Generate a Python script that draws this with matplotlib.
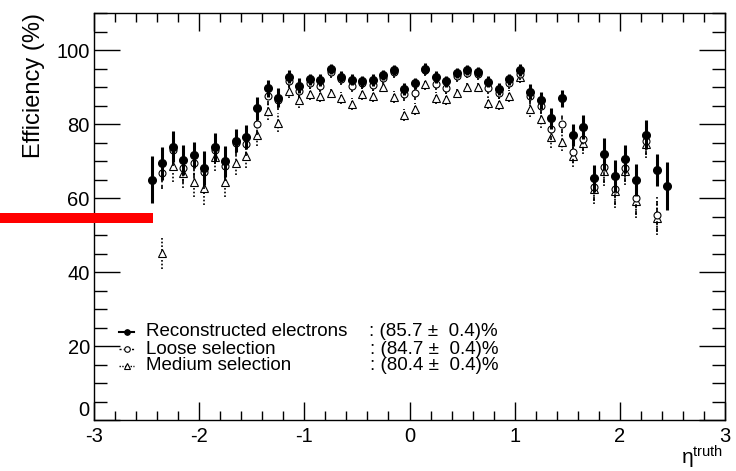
import numpy as np
import matplotlib
matplotlib.use("Agg")
import matplotlib.pyplot as plt
from matplotlib.patches import Rectangle
from matplotlib.lines import Line2D
from matplotlib.ticker import MultipleLocator

plt.rcParams['font.family'] = ['Liberation Sans', 'DejaVu Sans']
plt.rcParams['axes.unicode_minus'] = False

eta = [-2.45, -2.35, -2.25, -2.15, -2.05, -1.95, -1.85, -1.75, -1.65, -1.55,
       -1.45, -1.35, -1.25, -1.15, -1.05, -0.95, -0.85, -0.75, -0.65, -0.55,
       -0.45, -0.35, -0.25, -0.15, -0.05, 0.05, 0.15, 0.25, 0.35, 0.45,
       0.55, 0.65, 0.75, 0.85, 0.95, 1.05, 1.15, 1.25, 1.35, 1.45,
       1.55, 1.65, 1.75, 1.85, 1.95, 2.05, 2.15, 2.25, 2.35, 2.45]

reco = [65.0, 69.4, 73.9, 70.2, 71.6, 68.1, 73.9, 69.9, 75.5, 76.5,
        84.2, 89.6, 87.1, 92.8, 90.3, 92.1, 91.9, 94.9, 92.8, 92.0,
        91.6, 91.9, 93.3, 94.6, 89.4, 91.0, 95.0, 92.7, 91.6, 93.8,
        94.6, 94.1, 91.4, 89.4, 92.1, 94.6, 88.7, 86.4, 81.5, 86.9,
        77.0, 79.1, 65.3, 71.9, 66.0, 70.5, 64.9, 77.1, 67.6, 63.2]

loose = [np.nan, 66.8, 73.0, 68.0, 69.4, 67.0, 73.0, 68.7, 75.0, 74.6,
         80.0, 87.6, 86.5, 91.5, 89.0, 91.0, 90.3, 94.0, 92.1, 90.3,
         91.0, 90.5, 92.5, 94.0, 88.0, 88.3, 94.5, 90.7, 89.8, 93.0,
         93.8, 93.5, 89.8, 88.5, 91.0, 93.4, 87.5, 85.0, 78.6, 80.1,
         72.5, 76.0, 63.0, 68.3, 62.5, 68.2, 60.0, 75.5, 55.5, np.nan]

medium = [np.nan, 45.1, 68.7, 66.7, 64.2, 62.7, 71.0, 64.4, 69.4, 71.4,
          77.1, 83.6, 80.4, 88.9, 86.4, 88.0, 87.6, 88.5, 87.1, 85.5,
          88.0, 87.6, 90.1, 87.4, 82.4, 84.0, 90.7, 87.1, 86.7, 88.5,
          90.1, 90.1, 85.8, 85.5, 87.6, 92.8, 84.0, 81.3, 76.4, 75.2,
          71.4, 75.0, 62.3, 67.4, 61.8, 67.4, 59.3, 74.6, 54.6, np.nan]

err_reco = [6.4, 4.4, 4.3, 4.0, 3.6, 4.5, 3.8, 4.1, 3.2, 3.2,
            3.0, 2.3, 2.5, 1.8, 2.0, 1.5, 1.5, 1.4, 1.5, 1.5,
            1.5, 1.5, 1.4, 1.4, 1.6, 1.5, 1.4, 1.5, 1.5, 1.4,
            1.4, 1.4, 1.5, 1.6, 1.5, 1.6, 2.0, 2.3, 2.8, 2.2,
            3.0, 3.2, 3.7, 4.2, 4.3, 3.8, 4.4, 3.9, 4.4, 6.5]

err_sel = [6.4, 4.4, 4.3, 4.0, 3.8, 4.5, 3.8, 4.1, 3.3, 3.3,
           3.0, 2.4, 2.6, 1.9, 2.0, 1.6, 1.6, 1.6, 1.6, 1.6,
           1.6, 1.6, 1.5, 1.6, 1.7, 1.7, 1.5, 1.6, 1.6, 1.6,
           1.5, 1.5, 1.7, 1.7, 1.6, 1.6, 2.1, 2.4, 2.8, 2.6,
           3.0, 3.2, 3.8, 4.2, 4.5, 3.8, 4.6, 3.9, 4.7, 6.5]

labels = ["Reconstructed electrons", "Loose selection", "Medium selection"]
values = [": (85.7 \u00b1  0.4)%", ": (84.7 \u00b1  0.4)%", ": (80.4 \u00b1  0.4)%"]

fig = plt.figure(figsize=(7.36, 4.71), dpi=100)
W, H = 736, 471
ax = fig.add_axes([94 / W, 1 - 420 / H, 631 / W, 407 / H])

# medium (dotted)
em = ax.errorbar(eta, medium, yerr=err_sel, fmt='^', mfc='white', mec='black', ms=5.5,
                 mew=0.8, ecolor='black', elinewidth=1.2, capsize=0, zorder=2)
em[2][0].set_linestyle((0, (1, 1.2)))
# loose (dashed)
el = ax.errorbar(eta, loose, yerr=err_sel, fmt='o', mfc='white', mec='black', ms=5,
                 mew=0.8, ecolor='black', elinewidth=1.2, capsize=0, zorder=3)
el[2][0].set_linestyle((0, (2.5, 1.5)))
# reco (solid)
ax.errorbar(eta, reco, yerr=err_reco, xerr=0.025, fmt='o', mfc='black', mec='black', ms=5.5,
            ecolor='black', elinewidth=2.2, capsize=0, zorder=4)

ax.set_xlim(-3, 3)
ax.set_ylim(0, 110)
ax.xaxis.set_major_locator(MultipleLocator(1))
ax.xaxis.set_minor_locator(MultipleLocator(0.2))
ax.yaxis.set_major_locator(MultipleLocator(20))
ax.yaxis.set_minor_locator(MultipleLocator(5))
ax.tick_params(which='both', direction='in', top=True, right=True, labelsize=14.5, width=1)
ax.tick_params(axis='x', which='major', length=13, pad=5)
ax.tick_params(axis='x', which='minor', length=6.5)
ax.tick_params(axis='y', which='major', length=19, pad=3)
ax.tick_params(axis='y', which='minor', length=9.5)
for s in ax.spines.values():
    s.set_linewidth(1.0)

fig.canvas.draw()
for t in ax.yaxis.get_major_ticks():
    if abs(t.get_loc()) < 1e-9:
        t.label1.set_verticalalignment('bottom')

ax.set_ylabel("Efficiency (%)", fontsize=17, loc='top', labelpad=8)
fig.text(723 / W, 0.0, r"$\mathregular{\eta^{truth}}$", fontsize=15, ha='right', va='bottom')

# legend (manual)
rows_y = [0.217, 0.174, 0.133]
line_ls = ['-', (0, (1.5, 1.5)), (0, (1, 1))]
line_lw = [1.5, 1.0, 1.0]
mk = ['o', 'o', '^']
mfc = ['black', 'white', 'white']
for yy, lab, val, ls, lw, m, fc in zip(rows_y, labels, values, line_ls, line_lw, mk, mfc):
    ax.add_line(Line2D([0.040, 0.064], [yy, yy], transform=ax.transAxes, color='black',
                       ls=ls, lw=lw))
    ax.plot([0.052], [yy], transform=ax.transAxes, marker=m, mfc=fc,
            mec='black', ms=4, mew=0.8, ls='none')
    ax.text(0.083, yy, lab, transform=ax.transAxes, fontsize=13.5, va='center', ha='left')
    ax.text((498 - 94) / 631, yy, val, transform=ax.transAxes, fontsize=13.5, va='center', ha='right')

# red bar annotation
fig.patches.append(Rectangle((0, 1 - 223 / H), 153 / W, 10 / H, transform=fig.transFigure,
                             facecolor='#ff0000', edgecolor='none', zorder=10))

fig.savefig("out.png", dpi=100)
